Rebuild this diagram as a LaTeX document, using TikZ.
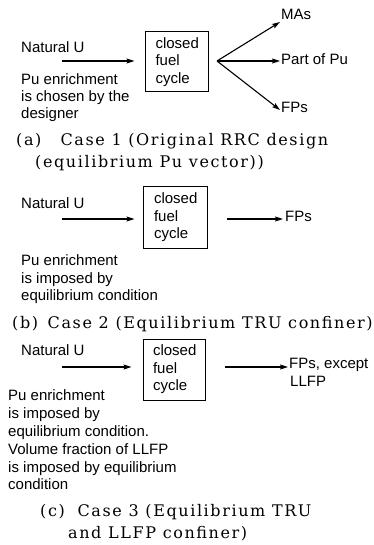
\documentclass[tikz,border=0pt]{standalone}
\usepackage{fontspec}
\usetikzlibrary{arrows.meta}
\newfontfamily\lblfont{Liberation Sans}
\newfontfamily\capfont[LetterSpace=10]{DejaVu Serif}
\begin{document}
\begin{tikzpicture}[x=1pt,y=-1pt,
  lbl/.style={inner sep=0pt, anchor=base west, font=\lblfont\fontsize{15}{17.5}\selectfont},
  captext/.style={inner sep=0pt, anchor=base west, font=\capfont\fontsize{16}{20}\selectfont},
  fuelbox/.style={draw, line width=1pt, inner sep=0pt, minimum width=#1, align=left, text width=42pt,
     font=\lblfont\fontsize{15}{17.5}\selectfont},
  arr/.style={line width=1.1pt, -{Stealth[length=8pt,width=5pt,inset=1.5pt]}}]
\useasboundingbox (0,0) rectangle (374,545);
\fill[white] (0,0) rectangle (374,545);

% ---------- (a)
\node[lbl] (natA) at (21,53) {Natural U};
\node[lbl] (pA1) at (21,85) {Pu enrichment};
\node[lbl] (pA2) at (21,102) {is chosen by the};
\node[lbl] (pA3) at (21,119) {designer};
\node[fuelbox=63pt, minimum height=60pt] (boxA) at (176.5,62) {closed\\fuel\\cycle};
\coordinate (inA) at (62,61);
\draw[arr, shorten >=10pt] (inA) -- (inA -| boxA.west);
\coordinate (fan) at (217,61);
\node[lbl] (mas) at (281,20) {MAs};
\node[lbl] (pu) at (281,65) {Part of Pu};
\node[lbl] (fpA) at (281,113) {FPs};
\draw[arr] (fan) -- ([xshift=-1pt,yshift=-2pt]mas.base west);
\draw[arr] (fan) -- ([xshift=-1pt,yshift=4pt]pu.base west);
\draw[arr] (fan) -- ([xshift=-1pt,yshift=3pt]fpA.base west);
\node[captext] (capA1) at (16,146) {(a)\hspace{1.2em}Case 1 (Original RRC design};
\node[captext] (capA2) at (35,168) {(equilibrium Pu vector))};

% ---------- (b)
\node[lbl] (natB) at (21,208) {Natural U};
\node[lbl] (pB1) at (21,265) {Pu enrichment};
\node[lbl] (pB2) at (21,283) {is imposed by};
\node[lbl] (pB3) at (21,300) {equilibrium condition};
\node[fuelbox=64pt, minimum height=61pt] (boxB) at (175,217.5) {closed\\fuel\\cycle};
\coordinate (inB) at (62,219);
\draw[arr, shorten >=8pt] (inB) -- (inB -| boxB.west);
\node[lbl] (fpB) at (285,222) {FPs};
\coordinate (outB) at (227,219);
\draw[arr] (outB) -- ([xshift=-2pt]outB -| fpB.west);
\node[captext] (capB) at (12,328) {(b)\hspace{0.6em}Case 2 (Equilibrium TRU confiner)};

% ---------- (c)
\node[lbl] (natC) at (21,355) {Natural U};
\node[lbl] (pC1) at (8,400) {Pu enrichment};
\node[lbl] (pC2) at (8,418) {is imposed by};
\node[lbl] (pC3) at (8,436) {equilibrium condition.};
\node[lbl] (pC4) at (8,454) {Volume fraction of LLFP};
\node[lbl] (pC5) at (8,472) {is imposed by equilibrium};
\node[lbl] (pC6) at (8,489) {condition};
\node[fuelbox=62pt, minimum height=61pt] (boxC) at (174,369.5) {closed\\fuel\\cycle};
\coordinate (inC) at (62,367);
\draw[arr, shorten >=11pt] (inC) -- (inC -| boxC.west);
\node[lbl] (fpC1) at (289,368) {FPs, except};
\node[lbl] (fpC2) at (290,386) {LLFP};
\coordinate (outC) at (225,367);
\draw[arr] (outC) -- ([xshift=-1pt]outC -| fpC1.west);
\node[captext] (capC1) at (40,516) {(c)\hspace{0.8em}Case 3 (Equilibrium TRU};
\node[captext] (capC2) at (68,538) {and LLFP confiner)};
\end{tikzpicture}
\end{document}
